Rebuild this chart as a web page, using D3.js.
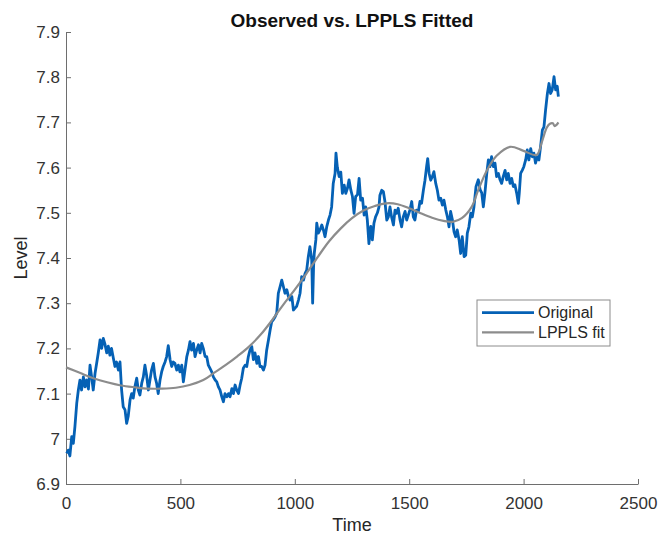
<!DOCTYPE html>
<html>
<head>
<meta charset="utf-8">
<script src="https://cdn.jsdelivr.net/npm/d3@7"></script>
<style>
  body { margin: 0; background: #fff; }
  svg { display: block; font-family: "Liberation Sans", Arial, Helvetica, sans-serif; }
</style>
</head>
<body>
<svg id="chart" width="660" height="538"></svg>
<script>
// observed series (time, level)
var origTime = [3,10,17,25,32,39,47,54,61,68,76,83,90,98,105,112,119,127,134,141,149,156,163,170,178,185,192,199,207,214,221,229,236,243,250,258,265,272,280,287,294,301,309,316,323,331,338,345,352,360,367,374,382,389,396,403,411,418,425,433,440,447,455,462,469,476,484,491,498,506,513,520,528,535,542,549,557,564,571,579,586,593,600,608,615,622,630,637,644,652,659,666,673,681,688,695,703,710,717,725,732,739,746,754,761,768,775,783,790,797,804,812,819,826,834,841,848,855,863,870,877,885,892,899,906,914,921,928,936,943,950,957,965,972,979,987,994,1001,1008,1016,1023,1030,1038,1045,1052,1059,1066,1074,1078,1082,1085,1092,1096,1103,1110,1118,1125,1132,1140,1147,1154,1161,1168,1176,1180,1186,1194,1201,1208,1216,1223,1230,1237,1245,1252,1259,1266,1274,1281,1288,1296,1303,1310,1317,1324,1332,1339,1346,1353,1361,1368,1372,1380,1387,1394,1402,1409,1416,1423,1431,1438,1445,1452,1460,1467,1474,1482,1489,1496,1503,1511,1518,1525,1532,1540,1547,1554,1562,1569,1576,1581,1587,1594,1601,1608,1616,1623,1630,1638,1645,1652,1660,1667,1674,1681,1689,1696,1703,1710,1718,1725,1732,1740,1747,1754,1761,1769,1776,1783,1792,1802,1810,1817,1824,1831,1839,1846,1853,1860,1868,1875,1882,1890,1897,1904,1911,1919,1926,1933,1941,1948,1955,1962,1970,1977,1981,1987,1994,2001,2009,2016,2023,2031,2038,2045,2052,2060,2067,2074,2082,2089,2096,2104,2111,2118,2125,2133,2140,2147,2152];
var origLevel = [6.968,6.975,6.962,7.005,6.99,7.027,7.079,7.108,7.13,7.108,7.137,7.115,7.13,7.11,7.163,7.137,7.108,7.145,7.167,7.19,7.219,7.2,7.222,7.21,7.19,7.205,7.185,7.2,7.178,7.16,7.17,7.152,7.17,7.108,7.071,7.064,7.034,7.05,7.086,7.1,7.09,7.115,7.134,7.108,7.097,7.123,7.137,7.163,7.141,7.108,7.13,7.152,7.167,7.137,7.123,7.1,7.13,7.148,7.16,7.17,7.182,7.206,7.175,7.16,7.17,7.167,7.152,7.163,7.148,7.163,7.126,7.152,7.182,7.196,7.215,7.196,7.211,7.182,7.196,7.208,7.19,7.211,7.2,7.182,7.182,7.163,7.155,7.148,7.137,7.13,7.126,7.115,7.108,7.093,7.082,7.1,7.093,7.1,7.093,7.111,7.1,7.119,7.108,7.1,7.119,7.134,7.156,7.163,7.16,7.182,7.196,7.204,7.175,7.19,7.167,7.182,7.16,7.16,7.152,7.163,7.196,7.219,7.24,7.259,7.263,7.27,7.278,7.322,7.337,7.351,7.337,7.322,7.33,7.315,7.307,7.315,7.285,7.289,7.293,7.307,7.322,7.359,7.351,7.366,7.373,7.403,7.425,7.396,7.3,7.38,7.41,7.44,7.477,7.455,7.462,7.473,7.462,7.447,7.47,7.484,7.495,7.513,7.565,7.587,7.632,7.6,7.58,7.59,7.543,7.561,7.543,7.554,7.573,7.55,7.536,7.499,7.536,7.54,7.576,7.528,7.532,7.495,7.513,7.484,7.432,7.47,7.44,7.477,7.491,7.5,7.513,7.539,7.55,7.547,7.525,7.484,7.491,7.513,7.491,7.473,7.506,7.499,7.51,7.484,7.469,7.491,7.503,7.484,7.495,7.506,7.525,7.491,7.484,7.506,7.503,7.525,7.521,7.55,7.572,7.602,7.62,7.587,7.572,7.58,7.591,7.565,7.55,7.528,7.532,7.517,7.528,7.506,7.491,7.469,7.503,7.484,7.458,7.447,7.462,7.44,7.41,7.447,7.403,7.406,7.455,7.469,7.499,7.491,7.513,7.558,7.573,7.551,7.544,7.513,7.544,7.587,7.617,7.602,7.624,7.602,7.61,7.58,7.587,7.573,7.565,7.58,7.594,7.573,7.587,7.565,7.576,7.558,7.562,7.543,7.521,7.543,7.587,7.594,7.602,7.617,7.639,7.617,7.642,7.624,7.632,7.61,7.624,7.617,7.646,7.683,7.69,7.727,7.764,7.786,7.764,7.772,7.801,7.772,7.78,7.757];

// fitted LPPLS curve (time, level)
var fitTime = [0,60,120,180,240,300,360,420,480,540,600,650,700,750,800,850,900,950,1000,1050,1100,1150,1200,1250,1300,1350,1400,1450,1500,1550,1600,1650,1690,1730,1773,1800,1839,1882,1941,2000,2057,2080,2101,2115,2128,2135,2145,2152];
var fitLevel = [7.158,7.146,7.134,7.125,7.118,7.114,7.111,7.111,7.113,7.119,7.13,7.147,7.164,7.183,7.204,7.23,7.262,7.297,7.33,7.365,7.402,7.437,7.465,7.488,7.505,7.515,7.521,7.519,7.51,7.499,7.489,7.482,7.48,7.488,7.513,7.548,7.593,7.626,7.646,7.637,7.628,7.657,7.688,7.697,7.698,7.692,7.695,7.7];

var xTicks = [0, 500, 1000, 1500, 2000, 2500];
var yTicks = [6.9, 7, 7.1, 7.2, 7.3, 7.4, 7.5, 7.6, 7.7, 7.8, 7.9];
var seriesNames = ["Original", "LPPLS fit"];
var seriesColors = ["#0561b5", "#8c8c8c"];

var margin = {top: 32, right: 22, bottom: 54, left: 66},
    width = 660 - margin.left - margin.right,
    height = 538 - margin.top - margin.bottom;

var svg = d3.select("#chart");
var g = svg.append("g")
    .attr("transform", "translate(" + margin.left + "," + margin.top + ")");

var xScale = d3.scaleLinear().domain([0, 2500]).range([0, width]);
var yScale = d3.scaleLinear().domain([6.9, 7.9]).range([height, 0]);

// axes, ticks pointing inward like matlab
var xAxis = d3.axisBottom(xScale)
    .tickValues(xTicks)
    .tickFormat(function(d) { return String(d); })
    .tickSizeInner(-5)
    .tickSizeOuter(0)
    .tickPadding(13);
var yAxis = d3.axisLeft(yScale)
    .tickValues(yTicks)
    .tickFormat(function(d) { return String(d); })
    .tickSizeInner(-5)
    .tickSizeOuter(0)
    .tickPadding(6);

var xg = g.append("g")
    .attr("transform", "translate(0," + height + ")")
    .call(xAxis);
var yg = g.append("g").call(yAxis);

[xg, yg].forEach(function(ax) {
    ax.selectAll("path, line").attr("stroke", "#6e6e6e");
    ax.selectAll("text")
        .attr("fill", "#333")
        .style("font-size", "17px");
});

// lines
var lineOrig = d3.line()
    .x(function(d, i) { return xScale(origTime[i]); })
    .y(function(d) { return yScale(d); });
var lineFit = d3.line()
    .curve(d3.curveCatmullRom)
    .x(function(d, i) { return xScale(fitTime[i]); })
    .y(function(d) { return yScale(d); });

g.append("path")
    .datum(origLevel)
    .attr("fill", "none")
    .attr("stroke", seriesColors[0])
    .attr("stroke-width", 2.8)
    .attr("stroke-linejoin", "round")
    .attr("d", lineOrig);

g.append("path")
    .datum(fitLevel)
    .attr("fill", "none")
    .attr("stroke", seriesColors[1])
    .attr("stroke-width", 2.2)
    .attr("d", lineFit);

// title + axis labels
svg.append("text")
    .attr("x", margin.left + width / 2)
    .attr("y", 27)
    .attr("text-anchor", "middle")
    .style("font-size", "19px")
    .style("font-weight", "bold")
    .attr("fill", "#111")
    .text("Observed vs. LPPLS Fitted");

svg.append("text")
    .attr("x", margin.left + width / 2)
    .attr("y", 531)
    .attr("text-anchor", "middle")
    .style("font-size", "18px")
    .attr("fill", "#262626")
    .text("Time");

svg.append("text")
    .attr("transform", "translate(27," + (margin.top + height / 2) + ") rotate(-90)")
    .attr("text-anchor", "middle")
    .style("font-size", "18px")
    .attr("fill", "#262626")
    .text("Level");

// legend
var legend = svg.append("g").attr("transform", "translate(477,300)");
legend.append("rect")
    .attr("width", 133)
    .attr("height", 46)
    .attr("fill", "#fff")
    .attr("stroke", "#8c8c8c");

var items = legend.selectAll(".item")
    .data(seriesNames)
    .enter().append("g")
    .attr("transform", function(d, i) { return "translate(0," + (12.7 + i * 19.6) + ")"; });
items.append("line")
    .attr("x1", 5).attr("x2", 57)
    .attr("stroke", function(d, i) { return seriesColors[i]; })
    .attr("stroke-width", function(d, i) { return i == 0 ? 2.8 : 2.2; });
items.append("text")
    .attr("x", 61)
    .attr("dy", "0.35em")
    .style("font-size", "16px")
    .attr("fill", "#262626")
    .text(function(d) { return d; });
</script>
</body>
</html>
